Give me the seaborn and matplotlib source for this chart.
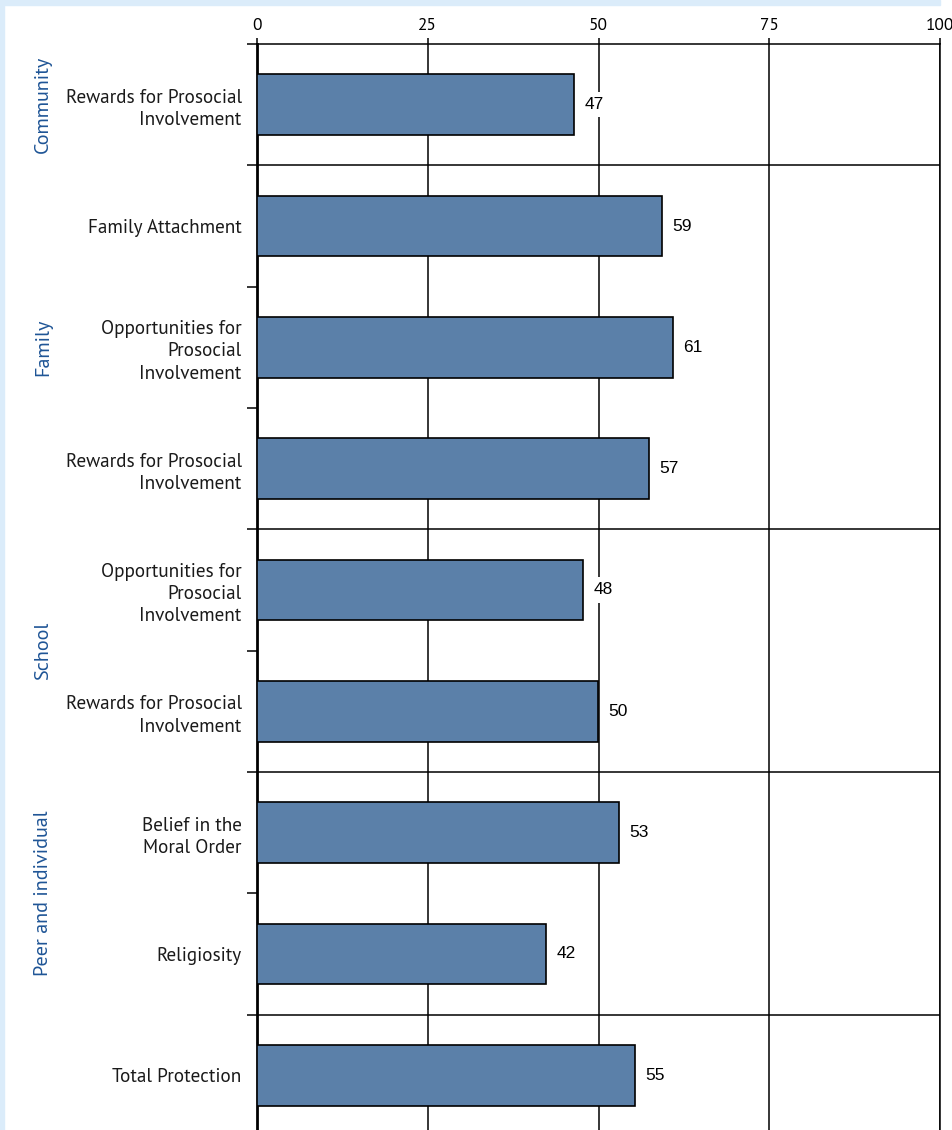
import numpy as np
import pandas as pd
import matplotlib
matplotlib.use('Agg')
import matplotlib.pyplot as plt
import matplotlib.transforms as mtrans
from matplotlib.patches import Rectangle
from matplotlib import font_manager
import seaborn as sns

#-----------------------------------------------
items=['Rewards for Prosocial\nInvolvement', 'Family Attachment',
       'Opportunities for\nProsocial\nInvolvement', 'Rewards for Prosocial\nInvolvement',
       'Opportunities for\nProsocial\nInvolvement', 'Rewards for Prosocial\nInvolvement',
       'Belief in the\nMoral Order', 'Religiosity', 'Total Protection']
item_group=['Community', 'Family', 'Family', 'Family', 'School', 'School',
            'Peer and individual', 'Peer and individual', '']
scores=[46.4, 59.3, 60.9, 57.4, 47.7, 49.9, 53.0, 42.3, 55.3]
score_labels=['47', '59', '61', '57', '48', '50', '53', '42', '55']
xticks=[0, 25, 50, 75, 100]

bar_color='#5b80a9'
group_color='#1f5596'
frame_color='#dbecfa'

#######################################################
names={f.name for f in font_manager.fontManager.ttflist}
def pick(cands):
    for c in cands:
        if c in names:
            return c
    return 'DejaVu Sans'
cond=pick(['Myriad Pro', 'PT Sans', 'Fira Sans Condensed', 'Roboto Condensed',
           'Liberation Sans Narrow', 'Lato'])
plain=pick(['Liberation Sans', 'Arimo'])

df=pd.DataFrame({'row': np.arange(len(items)), 'score': scores})

W, H=953, 1130
fig=plt.figure(figsize=(W/100, H/100), dpi=100)
fig.patch.set_facecolor('white')
fig.patches.append(Rectangle((0, 0), 4/W, 1, transform=fig.transFigure, color=frame_color, zorder=0))
fig.patches.append(Rectangle((0, 1-5/H), 940/W, 5/H, transform=fig.transFigure, color=frame_color, zorder=0))

ax=fig.add_axes([257/W, -6/H, 683/W, 1092/H])
sns.barplot(data=df, x='score', y='row', orient='y', color=bar_color, saturation=1,
            edgecolor='black', linewidth=1.2, width=0.5, ax=ax, zorder=3)

#axes
ax.set_xlim(0, 100)
ax.set_ylim(len(items)-0.5, -0.5)
ax.set_xlabel('')
ax.set_ylabel('')
ax.xaxis.tick_top()
ax.set_xticks(xticks)
ax.set_xticklabels([str(t) for t in xticks], fontfamily=cond, fontsize=12.5)
ax.tick_params(axis='x', length=4.5, width=1.1, pad=3, color='black')
ax.set_axisbelow(True)
ax.grid(axis='x', color='black', lw=1.1)
ax.grid(axis='y', visible=False)

ax.set_yticks(np.arange(len(items)))
ax.set_yticklabels(items, fontfamily=cond, fontsize=13.8, linespacing=1.3, color='#1a1a1a')
ax.tick_params(axis='y', which='major', length=0, pad=11)
ax.set_yticks(list(np.arange(-0.5, len(items)-1, 1.0)), minor=True)
ax.tick_params(axis='y', which='minor', length=7, width=1.1, color='black')

for s in ['top', 'right']:
    ax.spines[s].set_linewidth(1.1)
    ax.spines[s].set_color('black')
ax.spines['left'].set_linewidth(2)
ax.spines['left'].set_color('black')
ax.spines['bottom'].set_visible(False)

#group separators and labels
trans=mtrans.blended_transform_factory(ax.transAxes, ax.transData)
for i in range(1, len(items)):
    if item_group[i]!=item_group[i-1]:
        ax.axhline(i-0.5, color='black', lw=1.1, zorder=2)
for g in dict.fromkeys(item_group):
    if not g:
        continue
    rows=[i for i, x in enumerate(item_group) if x==g]
    ax.text((43-257)/683, np.mean(rows), g, transform=trans, rotation=90,
            ha='center', va='center', color=group_color, fontfamily=cond, fontsize=14.5)

#value labels
for i, (v, lab) in enumerate(zip(scores, score_labels)):
    ax.annotate(lab, (v, i), xytext=(7.5, 0), textcoords='offset points', ha='left', va='center',
                fontsize=12.5, fontfamily=plain, zorder=5,
                bbox=dict(boxstyle='square,pad=0.3', fc='white', ec='none'))

fig.savefig('out.png', dpi=100)
plt.close()
